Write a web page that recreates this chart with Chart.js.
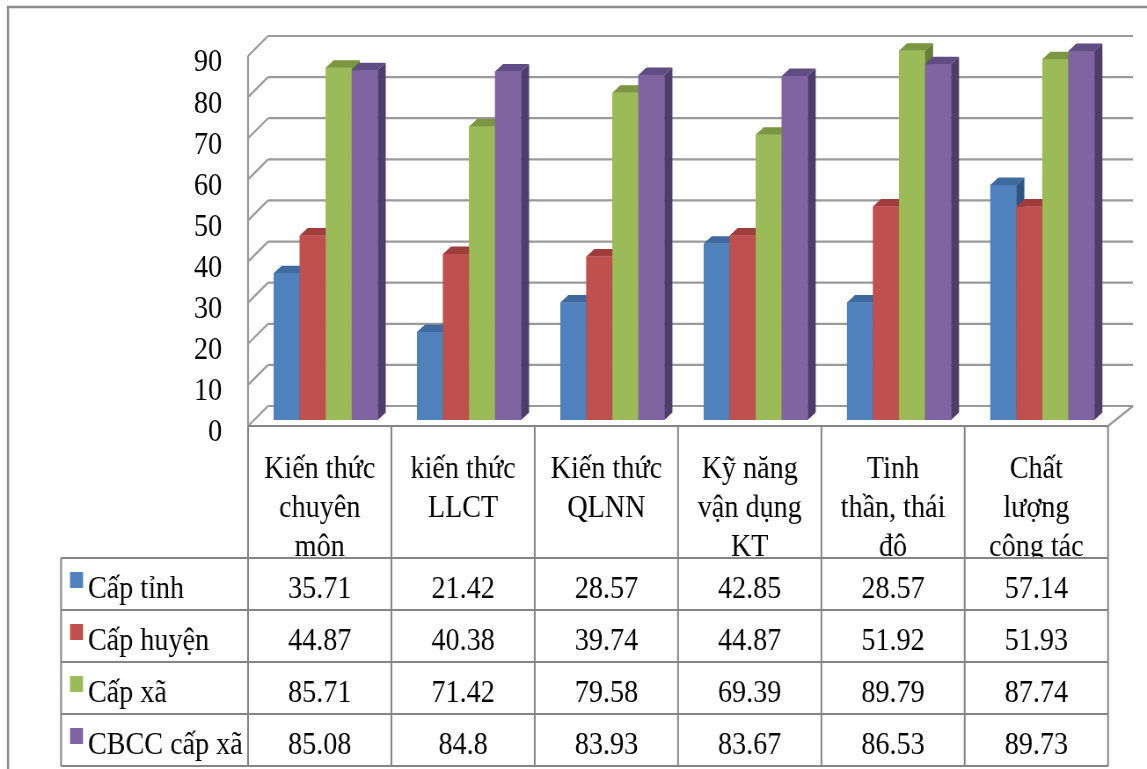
<!DOCTYPE html>
<html>
<head>
<meta charset="utf-8">
<script src="https://cdn.jsdelivr.net/npm/chart.js@4.4.1/dist/chart.umd.min.js"></script>
<style>
  html, body { margin: 0; padding: 0; background: #fff; overflow: hidden; }
  /* the drawing is laid out on a wider canvas and narrowed to the page width */
  #wrap { width: 1304px; height: 769px; transform: scaleX(0.8796); transform-origin: 0 0; }
  canvas { display: block; }
</style>
</head>
<body>
<div id="wrap"><canvas id="c" width="1304" height="769"></canvas></div>
<script>
// ---- data ----
const categories = [
  ["Kiến thức", "chuyên", "môn"],
  ["kiến thức", "LLCT"],
  ["Kiến thức", "QLNN"],
  ["Kỹ năng", "vận dụng", "KT"],
  ["Tinh", "thần, thái", "độ"],
  ["Chất", "lượng", "công tác"]
];
const seriesNames = ["Cấp tỉnh", "Cấp huyện", "Cấp xã", "CBCC cấp xã"];
const capTinh   = [35.71, 21.42, 28.57, 42.85, 28.57, 57.14];
const capHuyen  = [44.87, 40.38, 39.74, 44.87, 51.92, 51.93];
const capXa     = [85.71, 71.42, 79.58, 69.39, 89.79, 87.74];
const cbccCapXa = [85.08, 84.8, 83.93, 83.67, 86.53, 89.73];
const yTickValues = [0, 10, 20, 30, 40, 50, 60, 70, 80, 90];

// ---- styling ----
const FONT = '"Liberation Serif", "Times New Roman", serif';
const frontColors = ["#4F81BD", "#C0504D", "#9BBB59", "#8064A2"];
const topColors   = ["#3E6A9F", "#9E3D3A", "#7A9640", "#624C84"];
const sideColors  = ["#2F5382", "#853230", "#657E33", "#4E3C6A"];

const BAR_SHIFT_X = 6.8;   // bar fronts sit slightly behind the front plane
const BAR_SHIFT_Y = 6;
const WALL_DX = 22.7;      // depth of the floor / side wall
const WALL_DY = 20;
const WALL_DX_RIGHT = 28.4;
const BAR_DX = 9.1;        // depth of each bar
const BAR_DY = 7.5;
const GRID_COLOR = "#9a9a9a";
const TABLE_COLOR = "#858585";

const TABLE_LEFT = 69.4;
const ROW_TOP = 558;
const ROW_H = 52;

const seriesValues = [capTinh, capHuyen, capXa, cbccCapXa];

function fmt(v) { return String(v); }

const depth3d = {
  id: "depth3d",
  beforeDatasetsDraw(chart) {
    const { ctx, chartArea: a, scales: { y } } = chart;
    const fl = a.left - BAR_SHIFT_X;
    const fr = a.right - BAR_SHIFT_X;
    const fy = v => y.getPixelForValue(v) + BAR_SHIFT_Y;
    const y0 = fy(0);
    ctx.save();
    ctx.lineCap = "butt";
    ctx.strokeStyle = GRID_COLOR;
    ctx.lineWidth = 2.2;
    // right edge of the floor
    ctx.beginPath();
    ctx.moveTo(fr, y0);
    ctx.lineTo(fr + WALL_DX_RIGHT, y0 - WALL_DY);
    ctx.stroke();
    // back wall grid lines and side wall diagonals
    yTickValues.forEach(v => {
      const yy = fy(v);
      ctx.beginPath();
      ctx.moveTo(fl + WALL_DX, yy - WALL_DY);
      ctx.lineTo(fr + WALL_DX_RIGHT, yy - WALL_DY);
      ctx.stroke();
      ctx.beginPath();
      ctx.moveTo(fl, yy);
      ctx.lineTo(fl + WALL_DX, yy - WALL_DY);
      ctx.stroke();
    });
    // front edge of side wall
    ctx.beginPath();
    ctx.moveTo(fl, fy(90));
    ctx.lineTo(fl, y0);
    ctx.stroke();
    ctx.restore();
  },
  afterDatasetsDraw(chart) {
    const { ctx } = chart;
    const metas = chart.data.datasets.map((d, i) => chart.getDatasetMeta(i));
    const n = chart.data.labels.length;
    ctx.save();
    for (let c = 0; c < n; c++) {
      metas.forEach((meta, s) => {
        const bar = meta.data[c];
        const { x, y, base, width } = bar.getProps(["x", "y", "base", "width"], true);
        const l = x - width / 2, r = x + width / 2;
        // front face
        ctx.fillStyle = frontColors[s];
        ctx.fillRect(l, y, width, base - y);
        // top face
        ctx.fillStyle = topColors[s];
        ctx.beginPath();
        ctx.moveTo(l, y);
        ctx.lineTo(r, y);
        ctx.lineTo(r + BAR_DX, y - BAR_DY);
        ctx.lineTo(l + BAR_DX, y - BAR_DY);
        ctx.closePath();
        ctx.fill();
        // side face
        ctx.fillStyle = sideColors[s];
        ctx.beginPath();
        ctx.moveTo(r, y);
        ctx.lineTo(r + BAR_DX, y - BAR_DY);
        ctx.lineTo(r + BAR_DX, base - BAR_DY);
        ctx.lineTo(r, base);
        ctx.closePath();
        ctx.fill();
      });
    }
    ctx.restore();
  },
  afterDraw(chart) {
    const { ctx, chartArea: a, scales: { x, y } } = chart;
    const fl = a.left - BAR_SHIFT_X;
    const fr = a.right - BAR_SHIFT_X;
    const y0 = y.getPixelForValue(0) + BAR_SHIFT_Y;
    const n = chart.data.labels.length;
    const colW = (fr - fl) / n;
    const colCenter = i => x.getPixelForValue(i) - BAR_SHIFT_X;
    const rows = seriesNames.length;
    const tableBottom = ROW_TOP + rows * ROW_H;
    ctx.save();
    ctx.fillStyle = "#000";
    ctx.font = "32px " + FONT;
    ctx.textBaseline = "alphabetic";

    // category headings
    ctx.save();
    ctx.beginPath();
    ctx.rect(fl, y0, fr - fl, ROW_TOP - y0);
    ctx.clip();
    ctx.textAlign = "center";
    chart.data.labels.forEach((lines, i) => {
      lines.forEach((t, k) => ctx.fillText(t, colCenter(i), y0 + 52 + 39 * k));
    });
    ctx.restore();

    // series rows
    seriesNames.forEach((name, s) => {
      const top = ROW_TOP + s * ROW_H;
      ctx.fillStyle = frontColors[s];
      ctx.fillRect(TABLE_LEFT + 10.2, top + 14, 14.8, 16);
      ctx.fillStyle = "#000";
      ctx.textAlign = "left";
      ctx.fillText(name, TABLE_LEFT + 30.6, top + 40);
      ctx.textAlign = "center";
      seriesValues[s].forEach((v, i) => ctx.fillText(fmt(v), colCenter(i), top + 40));
    });

    // table lines
    ctx.strokeStyle = TABLE_COLOR;
    ctx.lineWidth = 2;
    ctx.beginPath();
    ctx.moveTo(fl, y0);
    ctx.lineTo(fr, y0);
    for (let r = 0; r <= rows; r++) {
      const yy = ROW_TOP + r * ROW_H;
      ctx.moveTo(TABLE_LEFT, yy);
      ctx.lineTo(fr, yy);
    }
    ctx.moveTo(TABLE_LEFT, ROW_TOP);
    ctx.lineTo(TABLE_LEFT, tableBottom);
    for (let i = 0; i <= n; i++) {
      const xx = fl + i * colW;
      ctx.moveTo(xx, y0);
      ctx.lineTo(xx, tableBottom);
    }
    ctx.stroke();

    // outer frame
    ctx.strokeStyle = "#8c8c8c";
    ctx.lineWidth = 2.5;
    ctx.strokeRect(9.1, 7, chart.width + 20, chart.height + 20);
    ctx.restore();
  }
};

new Chart(document.getElementById("c"), {
  type: "bar",
  data: {
    labels: categories,
    datasets: seriesNames.map((name, s) => ({
      label: name,
      data: seriesValues[s],
      backgroundColor: frontColors[s],
      borderWidth: 0,
      categoryPercentage: 0.726,
      barPercentage: 1.0
    }))
  },
  options: {
    responsive: false,
    animation: false,
    events: [],
    layout: { padding: { top: 50, bottom: 349, left: 0, right: 37.5 } },
    plugins: { legend: { display: false }, tooltip: { enabled: false } },
    scales: {
      x: { display: false, grid: { display: false } },
      y: {
        min: 0,
        max: 90,
        afterBuildTicks: s => { s.ticks = yTickValues.map(v => ({ value: v })); },
        afterFit: s => { s.width = 288.8; s.paddingTop = 0; s.paddingBottom = 0; },
        grid: { display: false, drawTicks: false },
        border: { display: false },
        ticks: {
          autoSkip: false,
          padding: 36.4,
          labelOffset: 13,
          color: "#000",
          font: { family: FONT, size: 32 }
        }
      }
    }
  },
  plugins: [depth3d]
});
</script>
</body>
</html>
